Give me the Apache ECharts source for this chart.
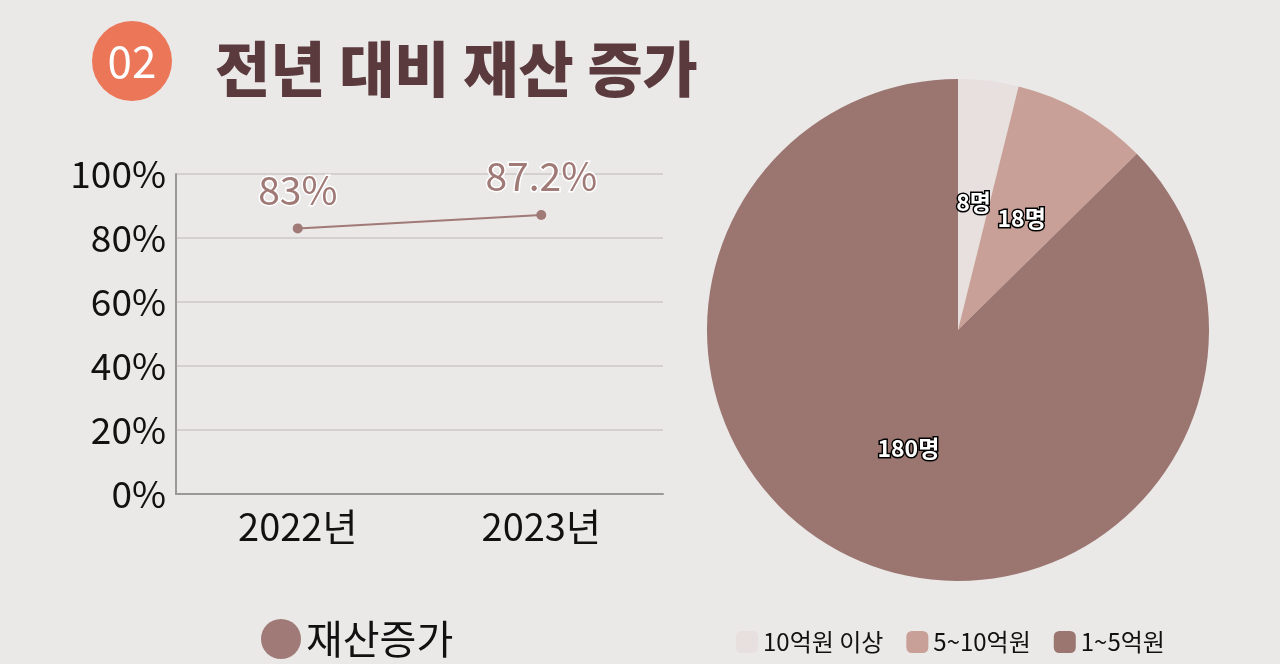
<!DOCTYPE html>
<html><head><meta charset="utf-8">
<script src="https://cdn.jsdelivr.net/npm/echarts@6/dist/echarts.min.js"></script>
<style>html,body{margin:0;padding:0;background:#ebe8e8;}#c{width:1280px;height:664px;}</style>
</head><body><div id="c"></div>
<script>
const years = ['2022년', '2023년'];
const growthRate = [83, 87.2];
const yTicks = [0, 20, 40, 60, 80, 100];
const pieCategories = ['10억원 이상', '5~10억원', '1~5억원'];
const pieValues = [8, 18, 180];
const pieColors = ['#e8dfdf', '#c9a097', '#9b7671'];
const lineName = '재산증가';
const FONT = '"Noto Sans CJK KR", "Noto Sans", sans-serif';

const chart = echarts.init(document.getElementById('c'));
chart.setOption({
  backgroundColor: '#ebe8e8',
  animation: false,
  title: {
    text: '전년 대비 재산 증가', left: 210, top: 26,
    textStyle: { fontFamily: FONT, fontSize: 60, fontWeight: 900, color: '#5a3a3d', lineHeight: 76 }
  },
  graphic: [
    { type: 'circle', shape: { cx: 132, cy: 61, r: 40 }, style: { fill: '#ec7658' } },
    { type: 'text', x: 132, y: 61, style: { text: '02', fill: '#fff', font: '400 44px ' + FONT, textAlign: 'center', textVerticalAlign: 'middle' } }
  ],
  legend: [{
    data: [lineName], left: 256, top: 614, icon: 'circle', itemWidth: 40, itemHeight: 40, itemGap: 10,
    textStyle: { fontFamily: FONT, fontSize: 40, color: '#111' }
  }, {
    data: pieCategories, left: 731, top: 625, icon: 'roundRect', itemWidth: 22, itemHeight: 22, itemGap: 23,
    textStyle: { fontFamily: FONT, fontSize: 24, color: '#111' }
  }],
  grid: { left: 176, right: 617, top: 174, bottom: 170 },
  xAxis: {
    type: 'category', data: years, boundaryGap: true,
    axisLine: { lineStyle: { color: '#9a9898', width: 2 } }, axisTick: { show: false },
    axisLabel: { fontFamily: FONT, fontSize: 38, color: '#111', margin: 14 }
  },
  yAxis: {
    type: 'value', min: yTicks[0], max: yTicks[yTicks.length - 1], interval: 20,
    axisLine: { show: true, lineStyle: { color: '#9a9898', width: 2 } }, axisTick: { show: false },
    splitLine: { lineStyle: { color: '#d4d0d0', width: 2 } },
    axisLabel: { fontFamily: FONT, fontSize: 37, color: '#111', formatter: '{value}%', margin: 10 }
  },
  series: [{
    name: lineName, type: 'line', data: growthRate, color: '#a07a76',
    symbol: 'circle', symbolSize: 10, lineStyle: { width: 2, color: '#a07a76' },
    itemStyle: { color: '#a07a76' },
    label: { show: true, position: 'top', distance: 14, formatter: '{c}%', fontFamily: FONT, fontSize: 39,
      color: '#a07a76', textBorderColor: '#fff', textBorderWidth: 3 }
  }, {
    type: 'pie', center: [958, 330], radius: 251, startAngle: 90, clockwise: true,
    data: pieCategories.map((n, i) => ({ name: n, value: pieValues[i], itemStyle: { color: pieColors[i] } })),
    label: { position: 'inside', formatter: '{c}명', fontFamily: FONT, fontSize: 23, fontWeight: 'bold',
      color: '#fff', textBorderColor: '#000', textBorderWidth: 3 },
    labelLine: { show: false }
  }]
});
</script></body></html>
